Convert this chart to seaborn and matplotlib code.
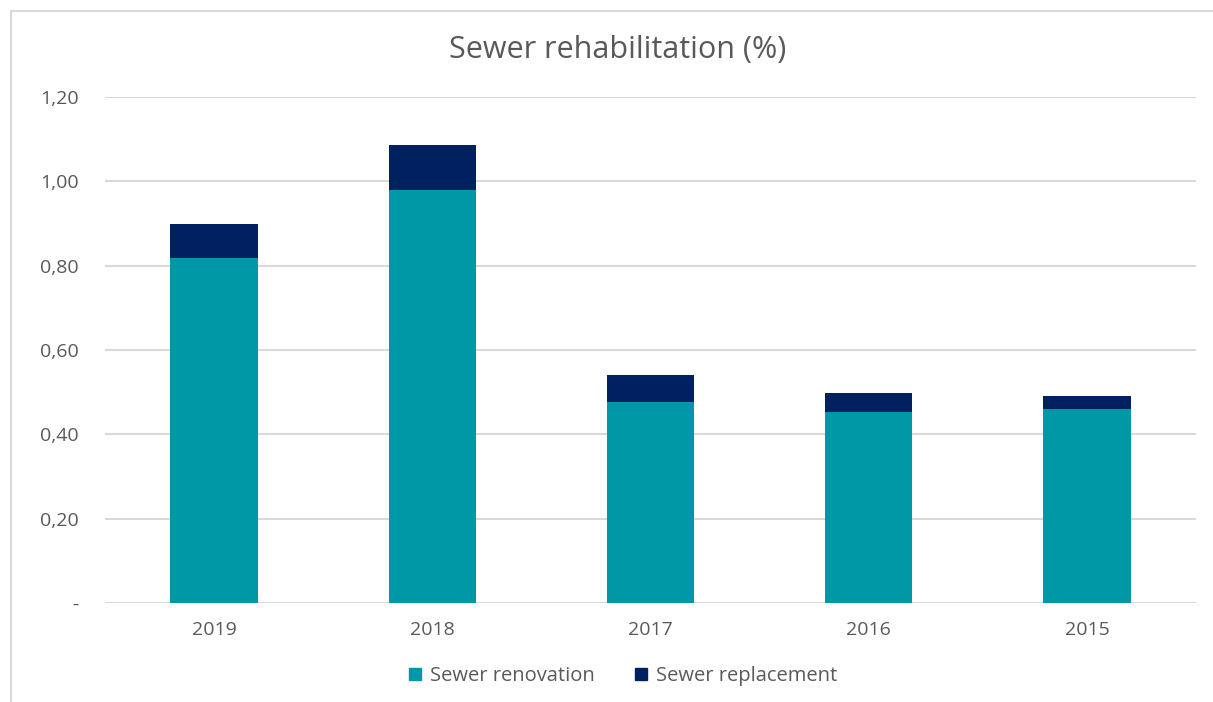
import numpy as np
import pandas as pd
import seaborn as sns
import matplotlib.pyplot as plt
from matplotlib.patches import Rectangle, Patch
from matplotlib.ticker import FuncFormatter

# Values
years = ["2019", "2018", "2017", "2016", "2015"]
renovation = [0.817, 0.979, 0.477, 0.454, 0.461]
replacement = [0.081, 0.108, 0.064, 0.043, 0.029]
yticks = [0.0, 0.2, 0.4, 0.6, 0.8, 1.0, 1.2]

teal = "#0097A7"
navy = "#002060"
grey_text = "#595959"
grid_col = "#D9D9D9"

df = pd.DataFrame({
    "year": years,
    "renovation": renovation,
    "replacement": replacement,
})
df["total"] = df["renovation"] + df["replacement"]

sns.set_style("white")
plt.rcParams["font.family"] = ["Open Sans", "DejaVu Sans"]

fig = plt.figure(figsize=(12.13, 7.02), dpi=100)
ax = fig.add_axes([105 / 1213, 1 - 603 / 702, 1091 / 1213, 506 / 702])

# stacked bars: draw total first, then renovation on top
sns.barplot(data=df, x="year", y="total", color=navy, width=0.4,
            saturation=1, linewidth=0, ax=ax, zorder=3)
sns.barplot(data=df, x="year", y="renovation", color=teal, width=0.4,
            saturation=1, linewidth=0, ax=ax, zorder=4)

ax.set_ylim(0, 1.2)
ax.set_xlim(-0.5, len(years) - 0.5)
ax.set_yticks(yticks)
ax.yaxis.set_major_formatter(FuncFormatter(
    lambda v, p: "-" if abs(v) < 1e-9 else f"{v:.2f}".replace(".", ",")))
ax.grid(axis="y", color=grid_col, linewidth=1.5, zorder=0)
ax.set_axisbelow(True)
for s in ax.spines.values():
    s.set_visible(False)
ax.tick_params(axis="both", length=0, labelsize=14, colors=grey_text)
ax.tick_params(axis="y", pad=19)
ax.tick_params(axis="x", pad=13)
ax.set_xlabel("")
ax.set_ylabel("")

fig.text(618 / 1213, 1 - 50 / 702, "Sewer rehabilitation (%)", ha="center",
         va="center", fontsize=22, color=grey_text)

handles = [Patch(color=teal, label="Sewer renovation"),
           Patch(color=navy, label="Sewer replacement")]
fig.legend(handles=handles, loc="center", bbox_to_anchor=(623 / 1213, 1 - 676 / 702),
           ncol=2, frameon=False, fontsize=14.5, labelcolor=grey_text,
           handlelength=0.6, handleheight=0.6, handletextpad=0.45, columnspacing=2.0)

# chart area border (clipped at right and bottom like the reference)
fig.patches.append(Rectangle((11 / 1213, -0.1), 1.2, 1 - 11 / 702 + 0.1,
                             transform=fig.transFigure, fill=False,
                             edgecolor="#D9D9D9", linewidth=1.5))

fig.savefig("out.png", dpi=100)
